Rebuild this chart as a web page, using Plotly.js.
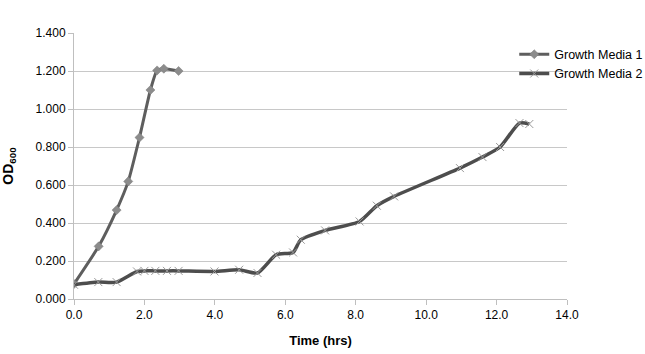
<!DOCTYPE html>
<html>
<head>
<meta charset="utf-8">
<script src="https://cdn.plot.ly/plotly-3.0.1.min.js"></script>
<style>html,body{margin:0;padding:0;background:#fff;}#chart{width:645px;height:354px;}</style>
</head>
<body>
<div id="chart"></div>
<script>
const media1Time = [0.0, 0.70, 1.21, 1.54, 1.86, 2.17, 2.36, 2.55, 2.97];
const media1OD   = [0.079, 0.277, 0.468, 0.619, 0.850, 1.100, 1.203, 1.212, 1.200];
const media2Time = [0.0, 0.69, 1.21, 1.79, 2.0, 2.31, 2.64, 2.97, 3.99, 4.69, 5.21, 5.74, 6.22, 6.44, 7.13, 8.11, 8.60, 9.09, 10.96, 11.60, 12.10, 12.65, 12.93];
const media2OD   = [0.075, 0.089, 0.089, 0.145, 0.148, 0.148, 0.148, 0.148, 0.145, 0.154, 0.137, 0.233, 0.245, 0.312, 0.361, 0.408, 0.491, 0.540, 0.689, 0.747, 0.800, 0.926, 0.921];
const seriesNames = ["Growth Media 1", "Growth Media 2"];
const xTicks = [0, 2, 4, 6, 8, 10, 12, 14];
const yTicks = [0, 0.2, 0.4, 0.6, 0.8, 1.0, 1.2, 1.4];

const traces = [
  {x: media1Time, y: media1OD, name: seriesNames[0], type: 'scatter', mode: 'lines+markers',
   line: {color: '#5e5e5e', width: 3, shape: 'spline', smoothing: 0.5},
   marker: {symbol: 'diamond', size: 7, color: '#8c8c8c', line: {color: '#7a7a7a', width: 0.5}}},
  {x: media2Time, y: media2OD, name: seriesNames[1], type: 'scatter', mode: 'lines+markers',
   line: {color: '#4d4d4d', width: 3.5, shape: 'spline', smoothing: 0.6},
   marker: {symbol: 'x-thin', size: 8, color: '#9a9a9a', line: {color: '#9a9a9a', width: 1}}}
];

const layout = {
  width: 645, height: 354,
  margin: {l: 73.5, r: 78, t: 33, b: 55, pad: 0, autoexpand: false},
  paper_bgcolor: '#fff', plot_bgcolor: '#fff',
  font: {family: 'Liberation Sans, Arial, sans-serif', size: 12, color: '#000'},
  showlegend: true,
  legend: {x: 0.893, y: 0.975, xanchor: 'left', yanchor: 'top', bgcolor: 'rgba(0,0,0,0)',
           font: {family: 'Liberation Sans, sans-serif', size: 12.5, color: '#000'}, tracegroupgap: 2, itemwidth: 30},
  xaxis: {range: [0, 14], tickvals: xTicks, ticktext: xTicks.map(v => v.toFixed(1)),
          showgrid: false, zeroline: false, showline: true, linecolor: '#bfbfbf', linewidth: 1,
          ticks: 'outside', ticklen: 5, tickcolor: '#bfbfbf', automargin: false,
          title: {text: '<b>Time (hrs)</b>', font: {size: 13}, standoff: 14}},
  yaxis: {range: [0, 1.4], tickvals: yTicks, ticktext: yTicks.map(v => v.toFixed(3)),
          showgrid: true, gridcolor: '#c8c8c8', gridwidth: 1, zeroline: false,
          showline: true, linecolor: '#bfbfbf', linewidth: 1,
          ticks: 'outside', ticklen: 5, tickcolor: '#bfbfbf', automargin: false,
          title: {text: '<b>OD<sub>600</sub></b>', font: {size: 14}, standoff: 18}}
};

Plotly.newPlot('chart', traces, layout, {displayModeBar: false, staticPlot: true});
</script>
</body>
</html>
